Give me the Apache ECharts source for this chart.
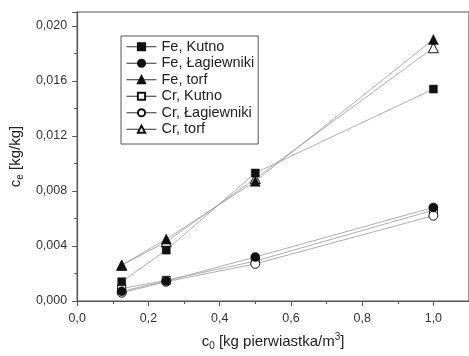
<!DOCTYPE html>
<html>
<head>
<meta charset="utf-8">
<script src="https://cdn.jsdelivr.net/npm/echarts@6/dist/echarts.min.js"></script>
<style>
  html, body { margin: 0; padding: 0; background: #fff; }
  #chart { width: 469px; height: 356px; }
</style>
</head>
<body>
<div id="chart"></div>
<script>
  // stężenie początkowe c0
  const c0 = [0.125, 0.25, 0.5, 1.0];

  const feKutno = [0.0014, 0.0037, 0.0093, 0.0154];
  const feLagiewniki = [0.0007, 0.00145, 0.0032, 0.0068];
  const feTorf = [0.0026, 0.0045, 0.0087, 0.0190];
  const crKutno = [0.0009, 0.0015, 0.0029, 0.0066];
  const crLagiewniki = [0.0006, 0.0014, 0.0027, 0.0062];
  const crTorf = [0.0026, 0.0043, 0.0089, 0.0184];

  const xTicks = [0.0, 0.2, 0.4, 0.6, 0.8, 1.0];
  const yTicks = [0.000, 0.004, 0.008, 0.012, 0.016, 0.020];

  const font = '"Liberation Sans", Arial, sans-serif';
  const axisColor = '#555';

  function pairs(ys) {
    return c0.map((x, i) => [x, ys[i]]);
  }

  function makeSeries(name, data, symbol, size, filled) {
    return {
      name: name,
      type: 'line',
      data: pairs(data),
      symbol: symbol,
      symbolSize: size,
      showAllSymbol: true,
      z: filled ? 3 : 2,
      lineStyle: { color: '#999', width: 0.8 },
      itemStyle: filled
        ? { color: '#111', borderColor: '#111', borderWidth: 0.5 }
        : { color: '#fff', borderColor: '#111', borderWidth: 1 },
      emphasis: { disabled: true }
    };
  }

  const chart = echarts.init(document.getElementById('chart'));
  chart.setOption({
    animation: false,
    textStyle: { fontFamily: font },
    grid: {
      left: 69,
      top: 12,
      width: 401,
      height: 294,
      show: true,
      borderColor: axisColor,
      borderWidth: 1.2,
      backgroundColor: 'transparent'
    },
    legend: {
      orient: 'vertical',
      left: 121,
      top: 36,
      padding: [3, 4, 7, 5],
      itemGap: 1,
      itemWidth: 30,
      itemHeight: 9,
      borderColor: axisColor,
      borderWidth: 1,
      lineStyle: { color: '#333', width: 1 },
      textStyle: { fontSize: 14.5, color: '#222', fontFamily: font, lineHeight: 15.5 },
      data: ['Fe, Kutno', 'Fe, Łagiewniki', 'Fe, torf', 'Cr, Kutno', 'Cr, Łagiewniki', 'Cr, torf']
    },
    xAxis: {
      type: 'value',
      min: 0,
      max: 1.1,
      interval: 0.2,
      name: '{n|c}{s|0}{n| [kg pierwiastka/m}{p|3}{n|]}',
      nameLocation: 'middle',
      nameGap: 31,
      nameTextStyle: {
        rich: {
          n: { fontSize: 15, color: '#222', fontFamily: font },
          s: { fontSize: 10, color: '#222', fontFamily: font, padding: [9, 0, 0, 0] },
          p: { fontSize: 10, color: '#222', fontFamily: font, padding: [0, 0, 9, 0] }
        }
      },
      splitLine: { show: false },
      axisLine: { onZero: false, lineStyle: { color: axisColor, width: 1.2 } },
      axisTick: { inside: false, length: 5, lineStyle: { color: axisColor } },
      minorTick: { show: true, splitNumber: 2, length: 3, lineStyle: { color: axisColor } },
      axisLabel: {
        margin: 11,
        fontSize: 12.5,
        color: '#333',
        showMaxLabel: false,
        formatter: function (v) {
          const hit = xTicks.find(t => Math.abs(t - v) < 1e-9);
          return hit === undefined ? '' : hit.toFixed(1).replace('.', ',');
        }
      }
    },
    yAxis: {
      type: 'value',
      min: 0,
      max: 0.021,
      interval: 0.004,
      name: '{n|c}{s|e}{n| [kg/kg]}',
      nameLocation: 'middle',
      nameGap: 27,
      nameTextStyle: {
        rich: {
          n: { fontSize: 15, color: '#222', fontFamily: font },
          s: { fontSize: 10, color: '#222', fontFamily: font, padding: [9, 0, 0, 0] }
        }
      },
      splitLine: { show: false },
      axisLine: { onZero: false, lineStyle: { color: axisColor, width: 1.2 } },
      axisTick: { inside: false, length: 5, lineStyle: { color: axisColor } },
      minorTick: { show: true, splitNumber: 2, length: 3, lineStyle: { color: axisColor } },
      axisLabel: {
        margin: 10,
        fontSize: 12.5,
        color: '#333',
        showMaxLabel: false,
        formatter: function (v) {
          const hit = yTicks.find(t => Math.abs(t - v) < 1e-9);
          return hit === undefined ? '' : hit.toFixed(3).replace('.', ',');
        }
      }
    },
    series: [
      makeSeries('Fe, Kutno', feKutno, 'rect', 8, true),
      makeSeries('Fe, Łagiewniki', feLagiewniki, 'circle', 9, true),
      makeSeries('Fe, torf', feTorf, 'triangle', 10, true),
      makeSeries('Cr, Kutno', crKutno, 'rect', 8, false),
      makeSeries('Cr, Łagiewniki', crLagiewniki, 'circle', 9, false),
      makeSeries('Cr, torf', crTorf, 'triangle', 10, false)
    ]
  });
</script>
</body>
</html>
